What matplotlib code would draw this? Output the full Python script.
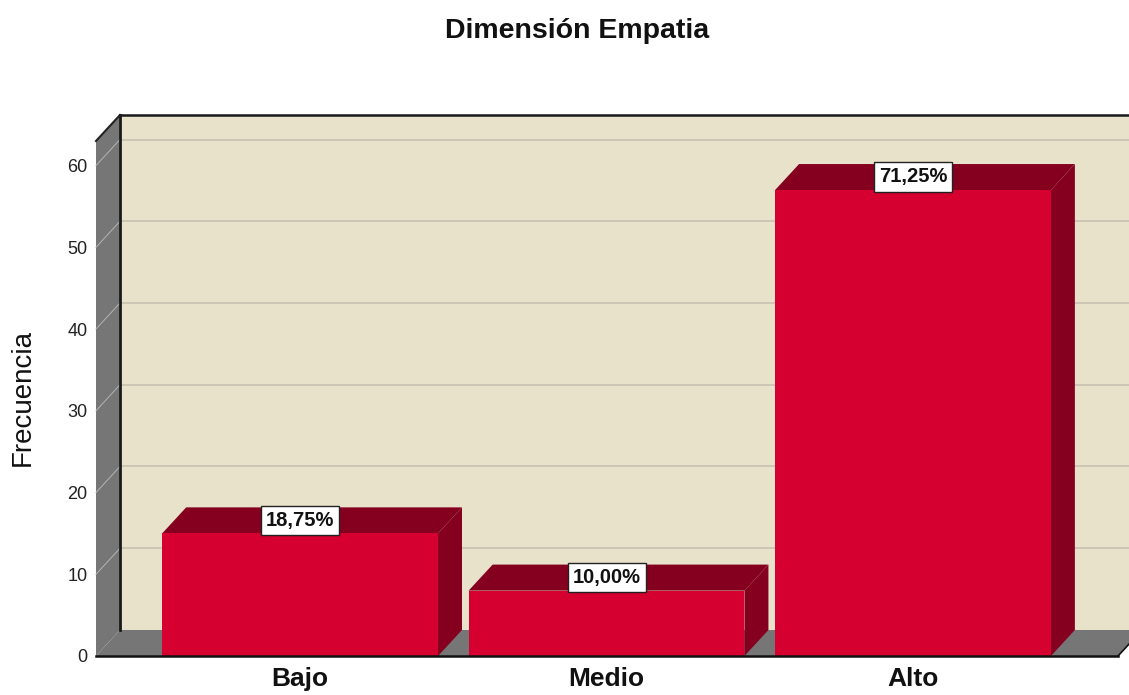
import matplotlib
matplotlib.use("Agg")
import matplotlib.pyplot as plt
from matplotlib.patches import Polygon

plt.rcParams['font.family'] = ['Liberation Sans', 'DejaVu Sans']

categories = ["Bajo", "Medio", "Alto"]
frecuencia = [15, 8, 57]
porcentajes = ["18,75%", "10,00%", "71,25%"]
y_ticks = [0, 10, 20, 30, 40, 50, 60]

W, H = 1129, 695
fig = plt.figure(figsize=(W / 100, H / 100), dpi=100)
ax = fig.add_axes([96 / W, 1 - 656 / H, (1118 - 96) / W, (656 - 141) / H])

# data limits, depth of the fake 3D box in data units
xmin, xmax = -0.666, 2.669
ymin, ymax = 0, 63
dx = 24 / 306.5
dy = 26 / 8.17
bar_w = 0.9

wall = "#e9e2cb"
side = "#767676"
front = "#d5002f"
dark = "#85001f"

ax.set_xlim(xmin, xmax)
ax.set_ylim(ymin, ymax)
ax.patch.set_visible(False)
for s in ax.spines.values():
    s.set_visible(False)


def poly(pts, color, z):
    p = Polygon(pts, closed=True, facecolor=color, edgecolor="none", linewidth=0, zorder=z, clip_on=False)
    ax.add_patch(p)


# back wall, runs off the right side of the image
poly([(xmin + dx, dy), (xmax + dx, dy), (xmax + dx, ymax + dy), (xmin + dx, ymax + dy)], wall, 1)
# left wall and floor
poly([(xmin, 0), (xmin + dx, dy), (xmin + dx, ymax + dy), (xmin, ymax)], side, 2)
poly([(xmin, 0), (xmax, 0), (xmax + dx, dy), (xmin + dx, dy)], side, 2)

# gridlines on the wall and the white lines on the left side
for t in y_ticks[1:]:
    ax.plot([xmin + dx, xmax + dx], [t + dy, t + dy], color="#c4bfae", lw=1.1, zorder=3, clip_on=False)
    ax.plot([xmin, xmin + dx], [t, t + dy], color="#b4b4b4", lw=0.7, zorder=3, clip_on=False)
ax.plot([xmin, xmin + dx], [ymax, ymax + dy], color="#222222", lw=1.5, zorder=4, clip_on=False)

# box outlines
ax.plot([xmin + dx, xmin + dx], [dy, ymax + dy], color="#1a1a1a", lw=2, zorder=4, clip_on=False)
ax.plot([xmin + dx, xmax + dx], [ymax + dy, ymax + dy], color="#1a1a1a", lw=1.8, zorder=4, clip_on=False)

# bars
bars = ax.bar(range(len(categories)), frecuencia, width=bar_w, color=front, zorder=6)
for b, val, txt in zip(bars, frecuencia, porcentajes):
    x0 = b.get_x()
    x1 = x0 + b.get_width()
    poly([(x0, val), (x1, val), (x1 + dx, val + dy), (x0 + dx, val + dy)], dark, 5)
    poly([(x1, 0), (x1 + dx, dy), (x1 + dx, val + dy), (x1, val)], dark, 5)
    ax.text((x0 + x1) / 2, val + 1.6, txt, ha="center", va="center",
            fontsize=14.5, fontweight="bold", color="#111111", zorder=8,
            bbox=dict(boxstyle="square,pad=0.25", facecolor="white", edgecolor="#222222", linewidth=1))

ax.plot([xmin, xmax], [0, 0], color="#111111", lw=1.8, zorder=7, clip_on=False)
ax.plot([xmax, xmax + dx], [0, dy], color="#111111", lw=1.2, zorder=4, clip_on=False)

ax.set_xticks(range(len(categories)))
ax.set_xticklabels(categories, fontsize=19, fontweight="bold", color="#111111")
ax.set_yticks(y_ticks)
ax.set_yticklabels([str(t) for t in y_ticks], fontsize=13, color="#222222")
ax.tick_params(axis="both", length=0)
ax.tick_params(axis="x", pad=8)
ax.tick_params(axis="y", pad=6)

ax.set_ylabel("Frecuencia", fontsize=20, color="#111111")
ax.yaxis.set_label_coords((36 - 96) / (1118 - 96), (656 - 397) / (656 - 141))

fig.text(577 / W, 1 - 31 / H, "Dimensión Empatia", ha="center", va="center",
         fontsize=20.5, fontweight="bold", color="#111111")

fig.savefig("out.png", dpi=100)
